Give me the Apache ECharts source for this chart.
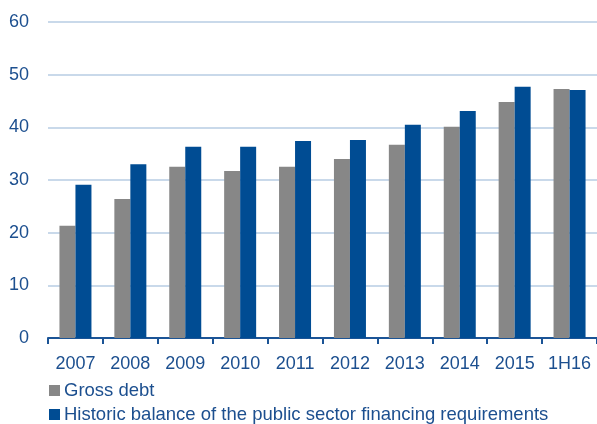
<!DOCTYPE html>
<html><head><meta charset="utf-8">
<script src="https://cdn.jsdelivr.net/npm/echarts@6/dist/echarts.min.js"></script>
<style>html,body{margin:0;padding:0;background:#fff}#c{width:597px;height:424px}</style>
</head><body><div id="c"></div>
<script>
const categories = ['2007','2008','2009','2010','2011','2012','2013','2014','2015','1H16'];
const grossDebt = [21.3, 26.4, 32.5, 31.7, 32.5, 34.0, 36.7, 40.1, 44.8, 47.3];
const historicBalance = [29.1, 33.0, 36.3, 36.3, 37.4, 37.6, 40.5, 43.1, 47.7, 47.1];
const seriesNames = ['Gross debt', 'Historic balance of the public sector financing requirements'];

const textColor = '#1c4f8f';
const font = 'Liberation Sans, Arial, sans-serif';
const legendBase = {
  orient: 'horizontal', left: 49, padding: 0,
  itemWidth: 11, itemHeight: 11, itemGap: 0,
  icon: 'rect',
  textStyle: {color: textColor, fontSize: 18.5, fontFamily: font, padding: [0,0,0,-1], lineHeight: 19}
};
const chart = echarts.init(document.getElementById('c'), null, {renderer:'canvas'});
chart.setOption({
  animation: false,
  backgroundColor: '#fff',
  grid: {left: 48, right: -1, top: 22, bottom: 86, containLabel: false},
  legend: [
    Object.assign({}, legendBase, {top: 381, data: [seriesNames[0]]}),
    Object.assign({}, legendBase, {top: 405, data: [seriesNames[1]]})
  ],
  xAxis: {
    type: 'category', data: categories,
    axisLine: {lineStyle: {color: '#1b5496', width: 2}},
    axisTick: {show: true, interval: 0, length: 6, lineStyle: {color: '#1b5496', width: 2}},
    axisLabel: {color: textColor, fontSize: 18, fontFamily: font, margin: 17, interval: 0, hideOverlap: false}
  },
  yAxis: {
    type: 'value', min: 0, max: 60, interval: 10,
    axisLine: {show: false}, axisTick: {show: false},
    axisLabel: {color: textColor, fontSize: 18, fontFamily: font, margin: 19},
    splitLine: {lineStyle: {color: '#c9d9ea', width: 2}}
  },
  series: [
    {name: seriesNames[0], type: 'bar', data: grossDebt, barWidth: 16, barGap: '0%', itemStyle: {color: '#878787'}},
    {name: seriesNames[1], type: 'bar', data: historicBalance, barWidth: 16, itemStyle: {color: '#004c93'}}
  ]
});
</script></body></html>
